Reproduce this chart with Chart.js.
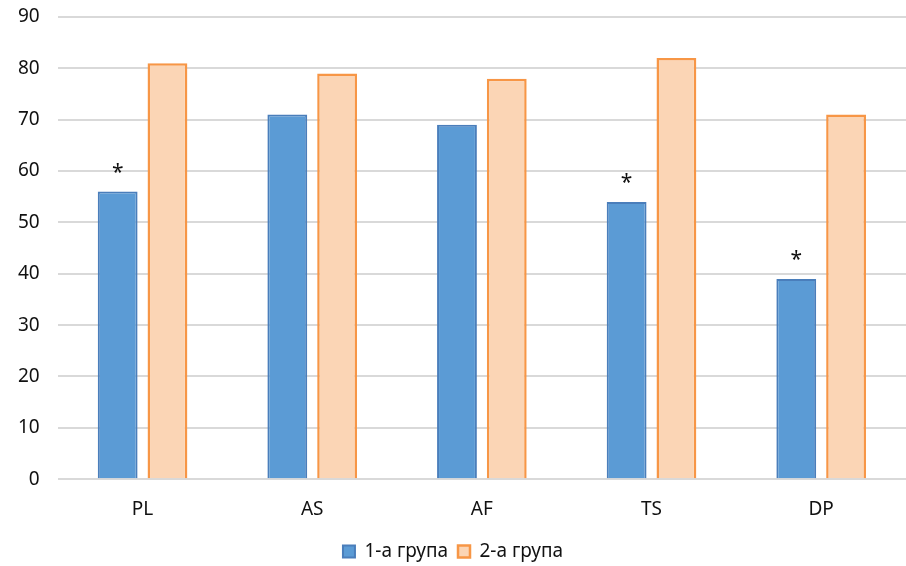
<!DOCTYPE html>
<html>
<head>
<meta charset="utf-8">
<script src="https://cdn.jsdelivr.net/npm/chart.js@4"></script>
<style>
  html, body { margin: 0; padding: 0; background: #fff; }
  #wrap { width: 906px; height: 566px; }
</style>
</head>
<body>
<div id="wrap"><canvas id="chart"></canvas></div>
<script>
'use strict';

const categories = ['PL', 'AS', 'AF', 'TS', 'DP'];
const group1 = [56, 71, 69, 54, 39];
const group2 = [81, 79, 78, 82, 71];
// significance marks above group 1 bars
const group1Marks = ['*', '', '', '*', '*'];

const seriesNames = ['1-а група', '2-а група'];

const fontFamily = '"Noto Sans", "Open Sans", sans-serif';
const textColor = '#111';

// draw the asterisks above the bars
const marksPlugin = {
    id: 'marks',
    afterDatasetsDraw(chart) {
        const ctx = chart.ctx;
        const meta = chart.getDatasetMeta(0);
        ctx.save();
        ctx.font = '21px ' + fontFamily;
        ctx.fillStyle = textColor;
        ctx.textAlign = 'center';
        ctx.textBaseline = 'middle';
        meta.data.forEach((bar, i) => {
            if (group1Marks[i]) ctx.fillText(group1Marks[i], bar.x, bar.y - 19);
        });
        ctx.restore();
    }
};

new Chart(document.getElementById('chart'), {
    type: 'bar',
    data: {
        labels: categories,
        datasets: [
            {
                label: seriesNames[0],
                data: group1,
                backgroundColor: '#5B9BD5',
                borderColor: '#4A7EBB',
                borderWidth: 2
            },
            {
                label: seriesNames[1],
                data: group2,
                backgroundColor: '#FBD5B5',
                borderColor: '#F79646',
                borderWidth: 2.5
            }
        ]
    },
    options: {
        responsive: true,
        maintainAspectRatio: false,
        animation: false,
        devicePixelRatio: 1,
        categoryPercentage: 0.587,
        barPercentage: 0.8,
        layout: { padding: { left: 0, right: 0, top: 0, bottom: -5 } },
        plugins: {
            legend: {
                position: 'bottom',
                labels: {
                    color: textColor,
                    font: { family: fontFamily, size: 19 },
                    boxWidth: 12,
                    boxHeight: 12,
                    padding: 10
                }
            },
            tooltip: { enabled: false }
        },
        scales: {
            x: {
                grid: { display: false },
                border: { display: false },
                ticks: { color: textColor, font: { family: fontFamily, size: 19 }, padding: 11 }
            },
            y: {
                min: 0,
                max: 90,
                ticks: { stepSize: 10, color: textColor, font: { family: fontFamily, size: 19 }, padding: 18 },
                grid: { color: '#d9d9d9', lineWidth: 2, drawTicks: false },
                border: { display: false },
                // keep the top label close to the edge
                afterFit: (scale) => {
                    scale.paddingTop = 17;
                    scale.paddingBottom = 11;
                }
            }
        }
    },
    plugins: [marksPlugin]
});
</script>
</body>
</html>
